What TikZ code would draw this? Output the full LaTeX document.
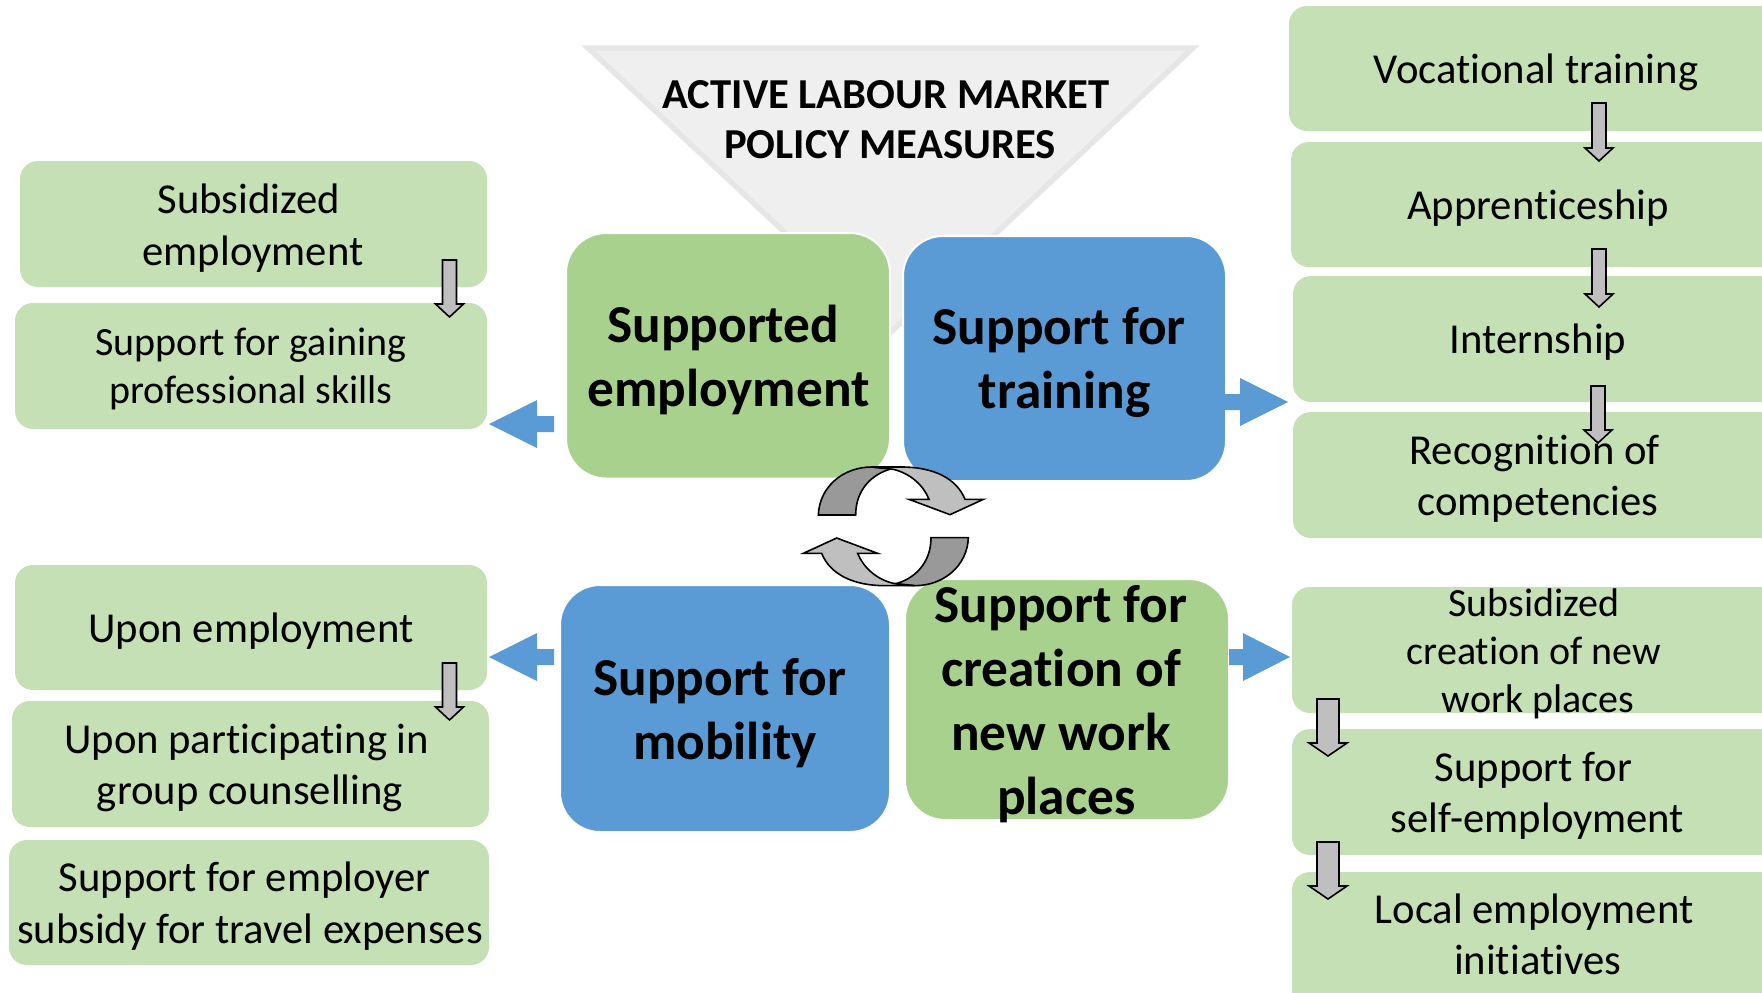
\documentclass[tikz,border=0pt]{standalone}
\usepackage{fontspec}
\setmainfont{Carlito}[Ligatures=NoCommon]
\definecolor{smgreen}{HTML}{C5E0B4}
\definecolor{maingreen}{HTML}{A9D18E}
\definecolor{mainblue}{HTML}{5B9BD5}
\definecolor{trifill}{HTML}{EFEFEF}
\definecolor{triline}{HTML}{E6E6E6}
\definecolor{arrlight}{HTML}{BFBFBF}
\definecolor{arrdark}{HTML}{999999}
\tikzset{
  smbox/.style={fill=smgreen,rounded corners=13.5pt},
  mainbox/.style={draw=white,line width=1.5pt,rounded corners=30pt},
  smtext/.style={align=center,inner sep=0pt,text=black},
  maintext/.style={align=center,inner sep=0pt,text=black,font=\fontsize{40}{48}\bfseries\selectfont},
  blockarrow/.style={fill=mainblue},
  downarrow/.style={draw=black,fill=arrlight,line width=1.2pt,line join=miter},
  cyc/.style={draw=black,line width=1.2pt,line join=miter},
}
\newcommand{\sm}[1]{\fontsize{32}{#1}\selectfont}
\newcommand{\smb}[1]{\fontsize{30}{#1}\selectfont}
\newcommand{\DownA}[5]{% x, top, tip, halfshaft, halfhead
  \pgfmathsetmacro{\hb}{#3-13}
  \path[downarrow] (#1-#4,#2) -- (#1+#4,#2) -- (#1+#4,\hb) -- (#1+#5,\hb) -- (#1,#3) -- (#1-#5,\hb) -- (#1-#4,\hb) -- cycle;}
\newcommand{\CycleArrow}{%
  \path[cyc,fill=arrdark] (175,225) .. controls (178,140) and (250,81) .. (335,81) -- (400,85) .. controls (335,100) and (287,150) .. (287,225) -- cycle;
  \path[cyc,fill=arrlight] (335,81) -- (425,81) .. controls (520,81) and (590,115) .. (615,178) -- (670,178) -- (570,224) -- (447,178) -- (507,178) .. controls (490,135) and (450,100) .. (400,88) -- cycle;
}
\begin{document}
\begin{tikzpicture}[x=0.75pt,y=-0.75pt]
\useasboundingbox (0,0) rectangle (1762,992);
\clip (0,0) rectangle (1762,992);
\fill[white] (0,0) rectangle (1762,992);
% funnel
\path[draw=triline,fill=trifill,line width=4pt] (588,48) -- (1193,48) -- (891,332) -- cycle;
\node[font=\fontsize{32}{38}\bfseries\selectfont,align=center,inner sep=0pt] (title) at (890,119.5) {\hspace*{-6pt}ACTIVE LABOUR MARKET\\POLICY MEASURES};
% small boxes left
\path[smbox] (20,161) rectangle (487,287);
\node[smtext,font=\sm{38.5}] (a1) at (253,228) {\hspace*{-6pt}Subsidized\\employment};
\path[smbox] (15,303) rectangle (487,429);
\node[smtext,font=\smb{36}] (a2) at (251,369) {Support for gaining\\professional skills};
\path[smbox] (15,565) rectangle (487,690);
\node[smtext,font=\sm{38}] (c1) at (251,631) {Upon employment};
\path[smbox] (12,701) rectangle (489,827);
\node[smtext,font=\sm{38.5}] (c2) at (250,768) {\hspace*{-5pt}Upon participating in\\group counselling};
\path[smbox] (9,840) rectangle (489,965);
\node[smtext,font=\sm{38.5}] (c3) at (250,906) {\hspace*{-8pt}Support for employer\\subsidy for travel expenses};
% small boxes right
\path[smbox] (1289,6) rectangle (1800,131);
\node[smtext,font=\sm{38}] (b1) at (1536,72) {Vocational training};
\path[smbox] (1291,142) rectangle (1800,267);
\node[smtext,font=\sm{38}] (b2) at (1538,208) {Apprenticeship};
\path[smbox] (1293,276) rectangle (1800,402);
\node[smtext,font=\sm{38}] (b3) at (1538,342) {Internship};
\path[smbox] (1293,412) rectangle (1800,538);
\node[smtext,font=\sm{38.5}] (b4) at (1538,479) {\hspace*{-5pt}Recognition of\\competencies};
\path[smbox] (1292,587) rectangle (1800,713);
\node[smtext,font=\smb{36}] (d1) at (1534,654) {Subsidized\\creation of new\\\hspace*{6pt}work places};
\path[smbox] (1292,729) rectangle (1800,855);
\node[smtext,font=\sm{38.5}] (d2) at (1537.5,796) {\hspace*{-6pt}Support for\\self-employment};
\path[smbox] (1292,872) rectangle (1800,1010);
\node[smtext,font=\sm{38.5}] (d3) at (1537.5,934) {\hspace*{-5pt}Local employment\\initiatives};
% main boxes
\path[mainbox,fill=maingreen] (566,233) rectangle (890,478.5);
\node[maintext] (se) at (728.5,359.5) {\hspace*{-8pt}Supported\\employment};
\path[mainbox,fill=mainblue] (903,236) rectangle (1226,481);
\node[maintext] (st) at (1064.5,362.5) {\hspace*{-8pt}Support for\\training};
\path[mainbox,fill=mainblue] (560,585) rectangle (890,832);
\node[maintext] (sm) at (725,713) {\hspace*{-8pt}Support for\\mobility};
\path[mainbox,fill=maingreen] (905,579) rectangle (1229,820);
\node[maintext] (sc) at (1061,704) {Support for\\creation of\\new work\\\hspace*{8pt}places};
% blue block arrows
\path[blockarrow] (489,424) -- (537,400) -- (537,416) -- (554,416) -- (554,432) -- (537,432) -- (537,448) -- cycle;
\path[blockarrow] (1225,394) -- (1240,394) -- (1240,378) -- (1288,402) -- (1240,426) -- (1240,410) -- (1225,410) -- cycle;
\path[blockarrow] (489,657) -- (537,633) -- (537,649) -- (554,649) -- (554,665) -- (537,665) -- (537,681) -- cycle;
\path[blockarrow] (1229,649) -- (1243,649) -- (1243,633) -- (1290,657) -- (1243,681) -- (1243,665) -- (1229,665) -- cycle;
% small arrows
\DownA{449.5}{260}{317}{7}{14}
\DownA{449.5}{663}{720}{7}{14}
\DownA{1599}{103}{161}{7}{14}
\DownA{1599}{249}{307}{7}{14}
\DownA{1598}{386}{443}{7}{14}
\DownA{1328}{699}{756}{11}{19}
\DownA{1328}{842}{899}{11}{19}
% cycle arrows
\begin{scope}[shift={(760,440)},x=0.25pt,y=-0.25pt]\CycleArrow\end{scope}
\begin{scope}[shift={(1026.67,612.67)},x=-0.25pt,y=0.25pt]\CycleArrow\end{scope}
\end{tikzpicture}
\end{document}
